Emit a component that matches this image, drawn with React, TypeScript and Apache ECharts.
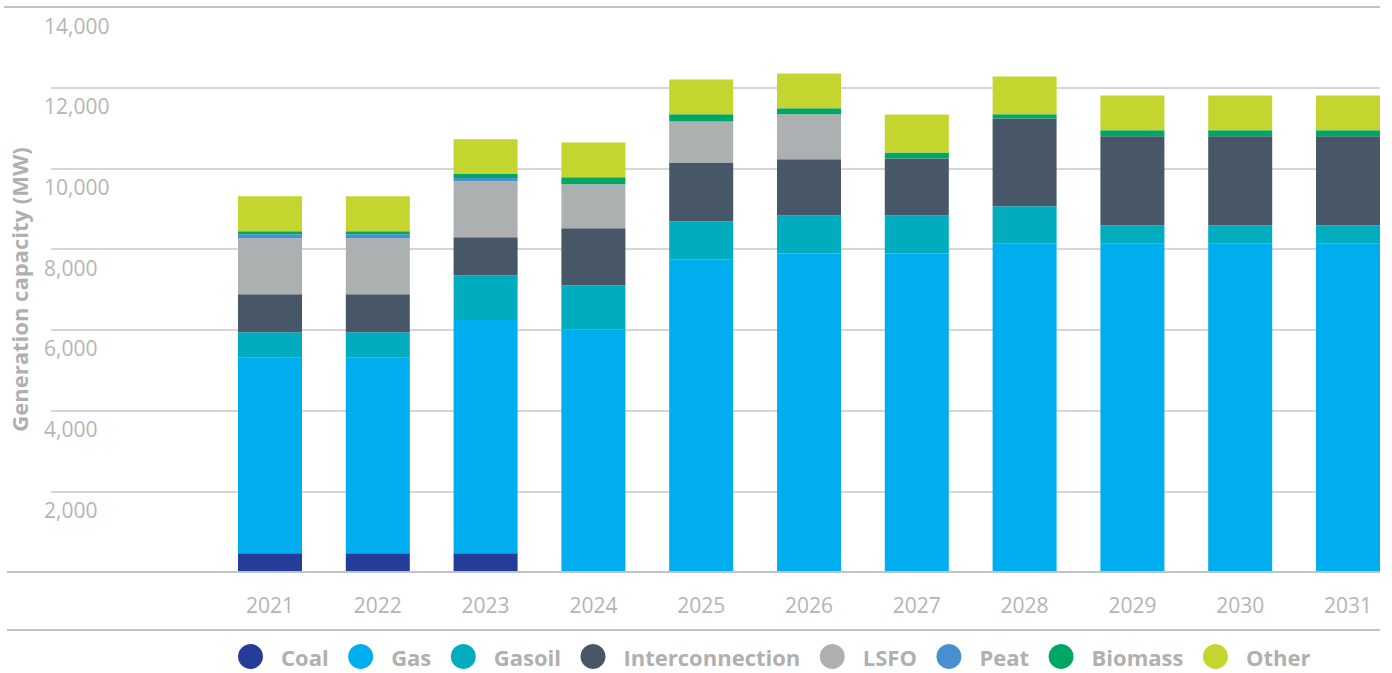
import React, { useEffect, useRef } from "react";
import * as echarts from "echarts";

const years = ["2021", "2022", "2023", "2024", "2025", "2026", "2027", "2028", "2029", "2030", "2031"];
const coal = [465, 465, 465, 0, 0, 0, 0, 0, 0, 0, 0];
const gas = [4855, 4855, 5780, 6015, 7750, 7895, 7895, 8145, 8145, 8145, 8145];
const gasoil = [620, 620, 1110, 1090, 940, 940, 940, 915, 445, 445, 445];
const interconnection = [940, 940, 940, 1410, 1460, 1390, 1410, 2180, 2205, 2205, 2205];
const lsfo = [1390, 1390, 1390, 1090, 1015, 1115, 0, 0, 0, 0, 0];
const peat = [100, 100, 80, 0, 0, 0, 0, 0, 0, 0, 0];
const biomass = [75, 75, 100, 175, 175, 150, 150, 100, 150, 150, 150];
const other = [865, 865, 860, 865, 865, 865, 940, 940, 865, 865, 865];

const seriesNames = ["Coal", "Gas", "Gasoil", "Interconnection", "LSFO", "Peat", "Biomass", "Other"];
const seriesData = [coal, gas, gasoil, interconnection, lsfo, peat, biomass, other];
const seriesColors = ["#253c98", "#00adee", "#00acbd", "#475767", "#adb0b1", "#4a8fcf", "#00a664", "#c4d52f"];

const yTicks = { min: 0, max: 14000, interval: 2000 };

const FONT = "'Open Sans', 'Noto Sans', sans-serif";
const LABEL_GRAY = "#b5b5b5";
const TITLE_GRAY = "#b0b0b0";
const LINE_GRAY = "#c9c9c9";

export default function App() {
  const ref = useRef<HTMLDivElement>(null);

  useEffect(() => {
    if (!ref.current) return;
    const chart = echarts.init(ref.current, undefined, { renderer: "svg" });
    const option: any = {
      animation: false,
      backgroundColor: "#ffffff",
      grid: [
        { left: 41, top: 7, width: 1339, height: 565 },
        { left: 216.1, top: 7, width: 1185.8, height: 565 },
      ],
      xAxis: [
        { gridIndex: 0, type: "value", show: false, min: 0, max: 1 },
        {
          gridIndex: 1,
          type: "category",
          data: years,
          axisLine: { show: false },
          axisTick: { show: false },
          axisLabel: {
            color: LABEL_GRAY,
            fontFamily: FONT,
            fontSize: 21,
            margin: 22,
          },
        },
      ],
      yAxis: [
        {
          gridIndex: 0,
          type: "value",
          min: yTicks.min,
          max: yTicks.max,
          interval: yTicks.interval,
          name: "Generation capacity (MW)",
          nameLocation: "middle",
          nameGap: 21,
          nameRotate: 90,
          nameMoveOverlap: false,
          nameTextStyle: {
            color: TITLE_GRAY,
            fontFamily: FONT,
            fontWeight: "bold",
            fontSize: 22,
          },
          axisLine: { show: false },
          axisTick: { show: false },
          splitLine: { show: true, lineStyle: { color: LINE_GRAY, width: 1.5 } },
          axisLabel: {
            inside: false,
            showMinLabel: false,
            margin: 7,
            align: "left",
            verticalAlign: "top",
            lineHeight: 21,
            padding: [8, 0, 0, 0],
            color: LABEL_GRAY,
            fontFamily: FONT,
            fontSize: 21,
            formatter: (v: number) => v.toLocaleString("en-US"),
          },
        },
        { gridIndex: 1, type: "value", min: yTicks.min, max: yTicks.max, show: false },
      ],
      legend: {
        left: 238,
        top: 644,
        padding: 0,
        icon: "circle",
        itemWidth: 25,
        itemHeight: 25,
        itemGap: 19.5,
        data: seriesNames,
        textStyle: {
          color: TITLE_GRAY,
          fontFamily: FONT,
          fontWeight: "bold",
          fontSize: 22,
          lineHeight: 25,
          padding: [0, 0, 0, 13],
        },
      },
      series: seriesNames.map((name, i) => ({
        name,
        type: "bar",
        stack: "total",
        xAxisIndex: 1,
        yAxisIndex: 1,
        barWidth: 64,
        data: seriesData[i],
        itemStyle: { color: seriesColors[i] },
      })),
      graphic: [
        { type: "line", z: 100, shape: { x1: 4, y1: 7, x2: 1380, y2: 7 }, style: { stroke: "#c2c2c2", lineWidth: 2 } },
        { type: "line", z: 100, shape: { x1: 7, y1: 572, x2: 1380, y2: 572 }, style: { stroke: "#c0c3c3", lineWidth: 2 } },
        { type: "line", z: 100, shape: { x1: 7, y1: 630, x2: 1380, y2: 630 }, style: { stroke: "#c0c3c3", lineWidth: 2 } },
      ],
    };
    chart.setOption(option);
    return () => chart.dispose();
  }, []);

  return (
    <div style={{ position: "absolute", left: 0, top: 0, width: 1392, height: 673, overflow: "hidden" }}>
      <div ref={ref} style={{ width: 1410, height: 673 }} />
    </div>
  );
}
